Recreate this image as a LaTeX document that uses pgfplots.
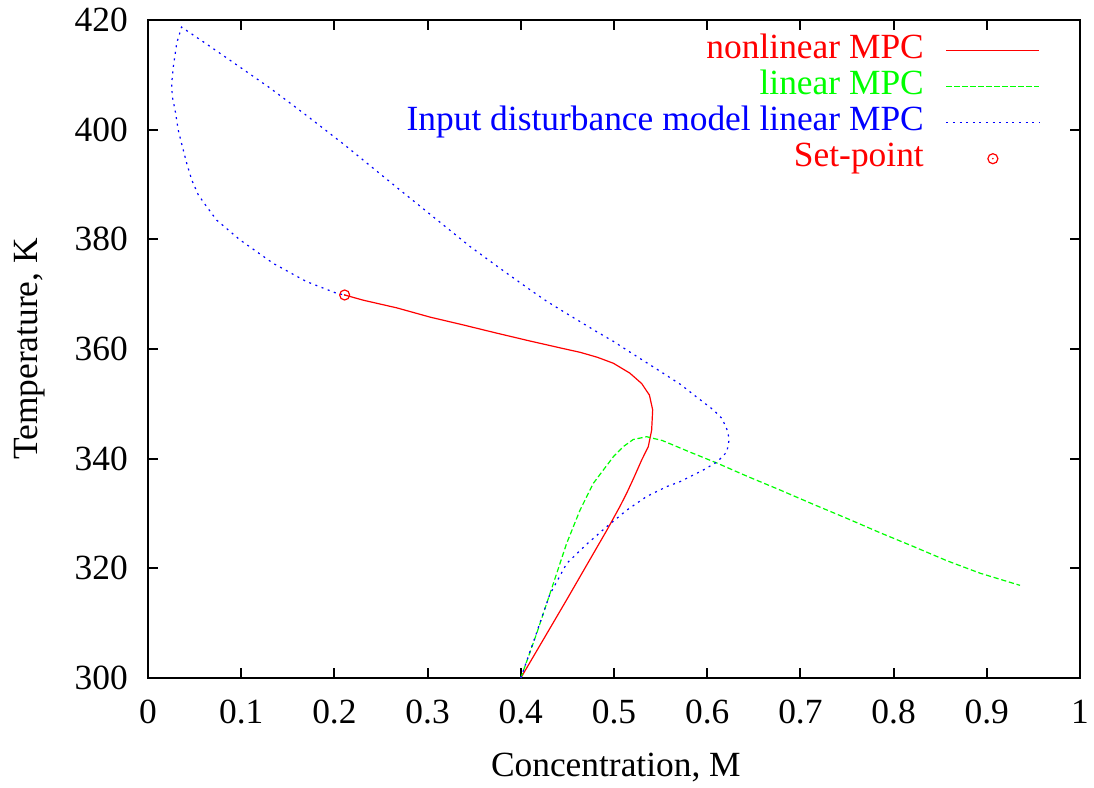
\documentclass[border=0pt]{standalone}
\usepackage{pgfplots}
\pgfplotsset{compat=1.18}
\usepackage{fontspec}
\setmainfont{Liberation Serif}
\pgfdeclareplotmark{odot}{%
  \pgfpathcircle{\pgfpoint{0pt}{0pt}}{\pgfplotmarksize}\pgfusepathqstroke
  \pgfpathcircle{\pgfpoint{0pt}{0pt}}{0.45pt}\pgfusepathqfill}
\begin{document}
\fontsize{17.7}{21}\selectfont
\begin{tikzpicture}
\begin{axis}[
  scale only axis, width=466pt, height=329pt,
  xmin=0, xmax=1, ymin=300, ymax=420,
  xtick={0,0.1,...,1.0}, ytick={300,320,...,420},
  xticklabels={0,0.1,0.2,0.3,0.4,0.5,0.6,0.7,0.8,0.9,1},
  /pgf/number format/assume math mode=true,
  tick align=inside, major tick length=5pt,
  axis line style={line width=1pt}, every tick/.style={line width=1pt, black},
  yticklabel style={xshift=-4pt},
  xticklabel style={yshift=-5pt},
  xlabel={Concentration, M}, ylabel={Temperature, K},
  every axis x label/.style={at={(axis description cs:0.502,0)}, anchor=center, yshift=-45pt},
  every axis y label/.style={at={(axis description cs:0,0.5)}, anchor=center, rotate=90, yshift=59pt},
  legend cell align=right, legend plot pos=right,
  legend style={draw=none, fill=none, at={(1,1)}, anchor=north east, xshift=-20pt, yshift=-6pt,
    inner sep=0pt, outer sep=0pt, column sep=11pt, row sep=0pt,
    nodes={inner xsep=0pt, inner ysep=0.5pt, text height=12.6pt, text depth=4.5pt}},
  legend image code/.code={\draw[#1] (0pt,0pt) -- (46.5pt,0pt);},
]
\addplot[red, line width=0.6pt] coordinates {
(0.400,300.0) (0.449,314.2) (0.4925,327.0) (0.5064,331.3) (0.5136,333.7) (0.5207,336.3)
(0.5297,339.75) (0.5368,342.2) (0.5404,345.2) (0.5415,348.9) (0.5380,351.6) (0.5297,353.7)
(0.5170,355.6) (0.4993,357.4) (0.4820,358.5) (0.4635,359.4) (0.4450,360.1) (0.4100,361.45)
(0.3740,362.9) (0.3380,364.4) (0.3030,365.8) (0.2670,367.5) (0.2310,368.9) (0.2110,369.85)};
\addlegendentry{\textcolor{red}{nonlinear MPC}}
\addplot[green, line width=0.6pt, dash pattern=on 2.6pt off 1.4pt] coordinates {
(0.400,300.0) (0.417,308.1) (0.4313,315.4) (0.4492,324.55) (0.4635,330.6) (0.4778,335.5)
(0.4993,340.35) (0.510,342.2) (0.5207,343.5) (0.5351,344.0) (0.552,343.3) (0.5815,341.2)
(0.6105,339.2) (0.6427,336.8) (0.678,334.3) (0.7135,331.7) (0.750,329.1) (0.7854,326.5)
(0.821,324.0) (0.857,321.4) (0.893,319.1) (0.9356,316.9)};
\addlegendentry{\textcolor{green}{linear MPC}}
\addplot[blue, line width=0.6pt, dash pattern=on 1pt off 2.3pt] coordinates {
(0.400,300.0) (0.416,307.8) (0.431,315.2) (0.4493,320.9) (0.4707,324.4) (0.4922,327.6)
(0.5136,330.6) (0.535,333.1) (0.5565,334.9) (0.5708,335.8) (0.5955,337.9) (0.6105,339.4)
(0.621,341.2) (0.6237,343.6) (0.621,345.4) (0.616,347.3) (0.6066,348.9) (0.589,351.2)
(0.5708,353.6) (0.5526,355.6) (0.517,359.45) (0.4993,361.4) (0.482,363.1) (0.445,366.9)
(0.4278,368.7) (0.410,370.8) (0.381,374.3) (0.3455,378.7) (0.274,388.5) (0.2414,393.0)
(0.2096,397.4) (0.170,402.6) (0.1309,407.6) (0.0987,411.4) (0.063,415.6) (0.036,418.7)
(0.0308,415.75) (0.0272,411.5) (0.0254,408.45) (0.0261,406.0) (0.029,403.6)
(0.0325,399.9) (0.036,397.5) (0.0415,393.9) (0.047,390.8) (0.054,388.1) (0.063,385.95)
(0.0737,383.5) (0.0987,379.9) (0.1345,375.6) (0.170,372.3) (0.2025,370.15) (0.211,369.85)};
\addlegendentry{\textcolor{blue}{Input disturbance model linear MPC}}
\addplot[red, only marks, mark=odot, mark size=2.5pt, line width=0.6pt,
  legend image code/.code={\draw[red, line width=0.6pt] plot[mark=odot, mark size=2.5pt] coordinates {(23.25pt,0pt)};}]
  coordinates {(0.211,369.85)};
\addlegendentry{\textcolor{red}{Set-point}}
\end{axis}
\pgfresetboundingbox
\path[use as bounding box] ([shift={(-74pt,-55pt)}]current axis.south west) rectangle ([shift={(7pt,10pt)}]current axis.north east);
\end{tikzpicture}
\end{document}
